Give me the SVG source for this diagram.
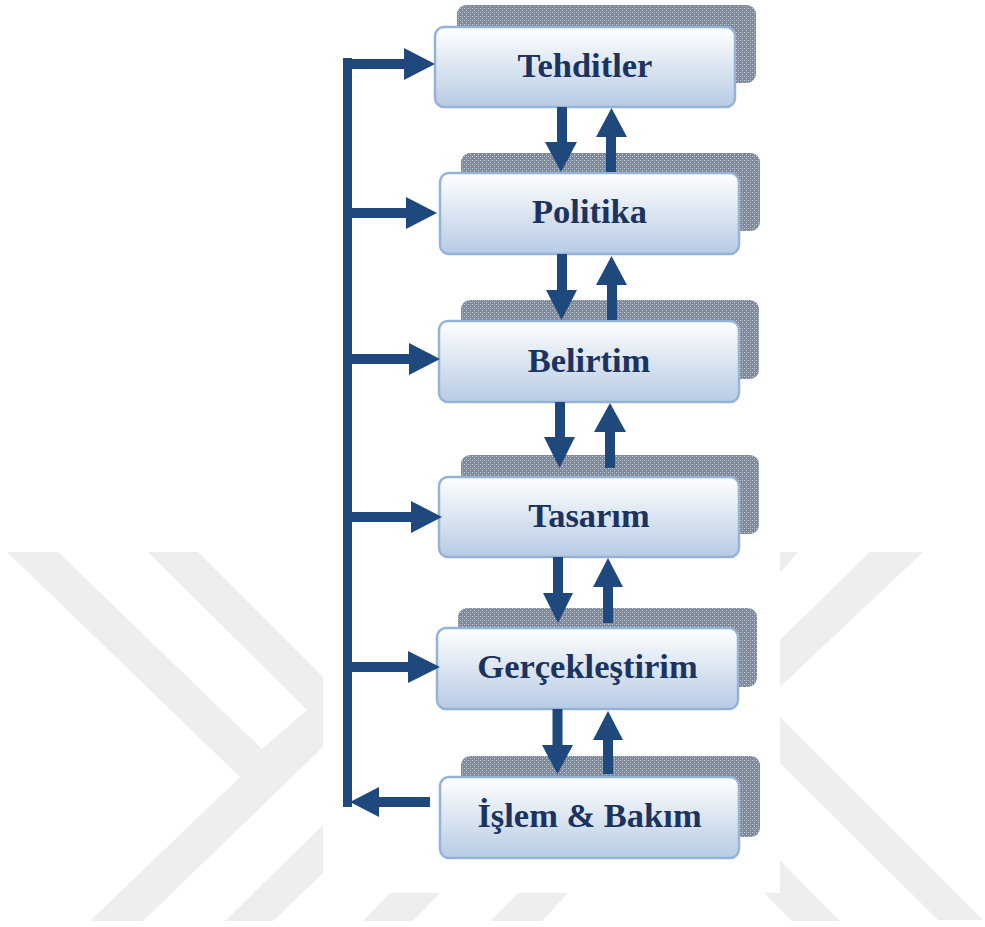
<svg xmlns="http://www.w3.org/2000/svg" width="985" height="927" viewBox="0 0 985 927">
  <defs>
    <linearGradient id="boxGrad" x1="0" y1="0" x2="0" y2="1">
      <stop offset="0" stop-color="#ffffff"/>
      <stop offset="0.5" stop-color="#dbe5f1"/>
      <stop offset="1" stop-color="#b7cbe4"/>
    </linearGradient>
    <pattern id="dots" width="4" height="4" patternUnits="userSpaceOnUse">
      <rect width="4" height="4" fill="#7e899a"/>
      <rect x="0" y="0" width="1" height="1" fill="#c9cfd8"/>
      <rect x="2" y="2" width="1" height="1" fill="#c9cfd8"/>
      <rect x="2" y="0" width="1" height="1" fill="#a3acb9"/>
    </pattern>
  </defs>
  <style>
    .wm { fill: #eeeeee; }
    .shadow { fill: url(#dots); }
    .box { fill: url(#boxGrad); stroke: #95b3d7; stroke-width: 2.5; }
    .label { font-family: "Liberation Serif", "Times New Roman", serif; font-weight: bold; font-size: 34.5px; fill: #1c3360; text-anchor: middle; }
    .conn { fill: #1f497d; }
  </style>

  <rect width="985" height="927" fill="#ffffff"/>

  <!-- watermark background -->
  <g id="watermark">
    <polygon class="wm" points="7,552 58,552 262,749 307,710 148,552 198,552 323,677 323,747 143,921 90,921 240,777"/>
    <polygon class="wm" points="225,921 323,825 323,873 273,921"/>
    <polygon class="wm" points="390,893 440,893 413,921 363,921"/>
    <polygon class="wm" points="518,893 568,893 542,921 490,921"/>
    <polygon class="wm" points="780,552 798,552 780,573"/>
    <polygon class="wm" points="870,552 923,552 780,687 780,640"/>
    <polygon class="wm" points="780,717 983,920 938,920 780,763"/>
    <polygon class="wm" points="712,840 760,840 840,921 792,921"/>
    <rect x="323" y="0" width="457" height="893" fill="#ffffff"/>
  </g>

  <g id="tehditler">
    <rect class="shadow" x="457" y="5" width="299" height="78" rx="9"/>
    <rect class="box" x="435" y="27" width="300" height="80" rx="9"/>
    <text class="label" x="585" y="77">Tehditler</text>
  </g>
  <g id="politika">
    <rect class="shadow" x="461" y="153" width="299" height="78" rx="9"/>
    <rect class="box" x="440" y="173" width="299" height="81" rx="9"/>
    <text class="label" x="589.5" y="223">Politika</text>
  </g>
  <g id="belirtim">
    <rect class="shadow" x="461" y="300" width="298" height="79" rx="9"/>
    <rect class="box" x="439" y="321" width="300" height="81" rx="9"/>
    <text class="label" x="589" y="372">Belirtim</text>
  </g>
  <g id="tasarim">
    <rect class="shadow" x="461" y="455" width="298" height="79" rx="9"/>
    <rect class="box" x="439" y="477" width="300" height="80" rx="9"/>
    <text class="label" x="589" y="527">Tasarım</text>
  </g>
  <g id="gerceklestirim">
    <rect class="shadow" x="458" y="608" width="299" height="79" rx="9"/>
    <rect class="box" x="437" y="628" width="301" height="81" rx="9"/>
    <text class="label" x="587.5" y="678">Gerçekleştirim</text>
  </g>
  <g id="islem-bakim">
    <rect class="shadow" x="461" y="756" width="299" height="81" rx="9"/>
    <rect class="box" x="440" y="777" width="299" height="81" rx="9"/>
    <text class="label" x="589.5" y="827">İşlem &amp; Bakım</text>
  </g>

  <g id="connectors">
    <!-- feedback bus -->
    <rect class="conn" x="343" y="58" width="9" height="749"/>
    <polygon class="conn" points="343,59 404,59 404,48 435,64 404,80 404,69 343,69"/>
    <polygon class="conn" points="343,208 406,208 406,197 437,213 406,229 406,218 343,218"/>
    <polygon class="conn" points="343,354 409,354 409,343 440,359 409,375 409,364 343,364"/>
    <polygon class="conn" points="343,512 411,512 411,501 442,517 411,533 411,522 343,522"/>
    <polygon class="conn" points="343,662 408,662 408,651 440,667 408,683 408,672 343,672"/>
    <polygon class="conn" points="430,797 379,797 379,787 350,802 379,817 379,807 430,807"/>
    <!-- Tehditler <-> Politika -->
    <polygon class="conn" points="557,107 567,107 567,142 577,142 561,172 545,142 557,142"/>
    <polygon class="conn" points="606,172 616,172 616,137 627,137 611.5,108 596,137 606,137"/>
    <!-- Politika <-> Belirtim -->
    <polygon class="conn" points="557,254 567,254 567,290 577,290 561.5,320 546,290 557,290"/>
    <polygon class="conn" points="607,320 617,320 617,285 627,285 611.5,256 596,285 607,285"/>
    <!-- Belirtim <-> Tasarım -->
    <polygon class="conn" points="555,402 565,402 565,437 575,437 559.5,468 544,437 555,437"/>
    <polygon class="conn" points="605,468 615,468 615,432 626,432 610,403 594,432 605,432"/>
    <!-- Tasarım <-> Gerçekleştirim -->
    <polygon class="conn" points="553,557 563,557 563,593 573,593 558,623 543,593 553,593"/>
    <polygon class="conn" points="603,623 613,623 613,587 623,587 608,558 593,587 603,587"/>
    <!-- Gerçekleştirim <-> İşlem & Bakım -->
    <polygon class="conn" points="552.5,709 562.5,709 562.5,745 573,745 557.5,774 542,745 552.5,745"/>
    <polygon class="conn" points="603,774 613,774 613,740 623,740 608,711 593,740 603,740"/>
  </g>
</svg>
